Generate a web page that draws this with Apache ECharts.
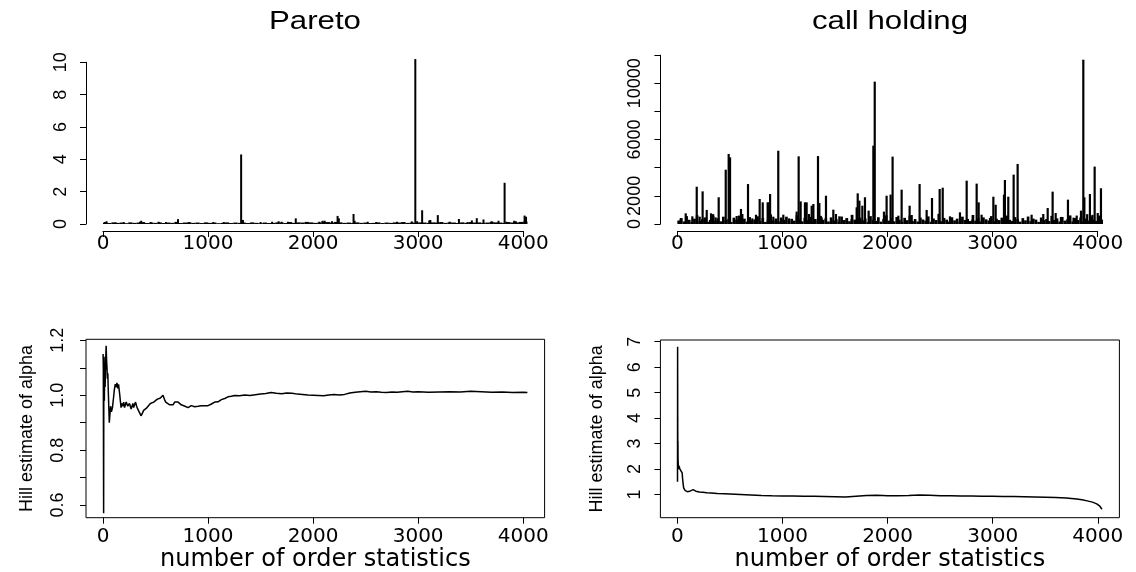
<!DOCTYPE html>
<html><head><meta charset="utf-8">
<script src="https://cdn.jsdelivr.net/npm/echarts@6/dist/echarts.min.js"></script>
<style>html,body{margin:0;padding:0;background:#fff}#c{width:1136px;height:572px}</style>
</head><body><div id="c"></div>
<script>
// ---------- data ----------
const panelTitles = ['Pareto', 'call holding'];
const xTickValues = [0, 1000, 2000, 3000, 4000];
const hillParetoTicks = [0.6, 0.7, 0.8, 0.9, 1.0, 1.1, 1.2];
const hillParetoLabels = [0.6, 0.8, 1.0, 1.2];
const hillCallTicks = [1, 2, 3, 4, 5, 6, 7];
const callYLabels = [0, 2000, 6000, 10000];

// Pareto series: visible spikes
const paretoSpikeIdx = [19, 34, 120, 198, 352, 364, 455, 530, 600, 714, 820, 1050, 1150, 1315, 1332, 1500, 1610, 1672, 1700, 1760, 1835, 2060, 2090, 2110, 2180, 2233, 2245, 2385, 2395, 2520, 2600, 2800, 2850, 2940, 2973, 2990, 3038, 3106, 3116, 3187, 3300, 3388, 3470, 3511, 3558, 3622, 3700, 3765, 3823, 3840, 3914, 3930, 4013, 4027];
const paretoSpikeVal = [0.12, 0.17, 0.1, 0.12, 0.14, 0.2, 0.12, 0.14, 0.12, 0.3, 0.12, 0.12, 0.12, 4.3, 0.25, 0.12, 0.14, 0.17, 0.14, 0.14, 0.35, 0.14, 0.2, 0.2, 0.17, 0.5, 0.35, 0.62, 0.2, 0.14, 0.12, 0.14, 0.12, 0.16, 10.2, 0.17, 0.85, 0.22, 0.25, 0.55, 0.14, 0.31, 0.12, 0.22, 0.36, 0.28, 0.17, 0.2, 2.55, 0.14, 0.2, 0.17, 0.52, 0.45];
// Pareto series: low background level, one reading every 40 observations
const paretoBaseStep = 40;
const paretoBaseVal = [0.09,0.06,0.1,0.07,0.09,0.05,0.1,0.07,0.09,0.12,0.06,0.09,0.07,0.1,0.06,0.09,0.07,0.13,0.06,0.09,0.1,0.07,0.09,0.06,0.1,0.07,0.09,0.05,0.07,0.1,0.06,0.09,0.07,0.09,0.06,0.1,0.07,0.05,0.09,0.06,0.07,0.1,0.09,0.06,0.12,0.07,0.1,0.09,0.13,0.1,0.07,0.09,0.14,0.12,0.09,0.13,0.1,0.07,0.09,0.06,0.1,0.07,0.09,0.06,0.07,0.1,0.06,0.09,0.07,0.1,0.09,0.12,0.07,0.09,0.06,0.1,0.09,0.07,0.1,0.09,0.12,0.07,0.1,0.09,0.06,0.1,0.07,0.12,0.09,0.1,0.07,0.09,0.13,0.1,0.09,0.07,0.12,0.09,0.1,0.13,0.15];

// call holding series: visible spikes
const callSpikeIdx = [31,79,142,184,212,240,279,320,342,364,393,460,488,501,564,605,618,672,713,748,783,812,859,869,882,913,960,1008,1062,1135,1154,1173,1214,1230,1252,1278,1294,1338,1351,1373,1414,1484,1509,1541,1611,1658,1706,1716,1732,1760,1785,1820,1865,1878,1966,1991,2029,2048,2103,2134,2210,2230,2305,2372,2423,2496,2525,2594,2689,2753,2807,2848,2867,2895,2975,3007,3029,3108,3117,3149,3200,3238,3371,3482,3524,3571,3600,3650,3717,3770,3800,3841,3863,3873,3900,3926,3950,3971,4000,4015,4031];
const callSpikeVal = [400,760,545,2650,520,2320,1000,760,590,470,1900,3860,4980,4740,570,1070,710,2840,400,660,1780,1540,1540,1540,2130,520,5210,660,400,880,4810,1610,1540,1540,710,1300,1420,4830,1490,470,2010,1020,710,545,400,355,1185,2180,1660,1300,1900,950,5570,10120,880,2010,2090,4790,590,2440,1300,640,2840,1000,1850,2490,2580,545,830,3080,310,2870,1540,660,430,1940,1370,2090,3130,1940,3510,4270,660,710,1140,2300,780,500,1730,450,600,950,11680,1900,700,2130,650,4080,780,600,2540];
// call holding series: dense background level, one reading every 25 observations
const callBaseStep = 25;
const callBaseVal = [250,420,180,560,300,150,380,620,210,340,470,160,290,700,230,410,190,520,280,360,
140,450,310,600,220,380,170,490,260,330,550,200,420,150,310,680,240,390,180,460,
290,520,160,370,240,610,330,190,440,270,500,150,360,230,580,300,410,180,470,250,
340,160,530,280,420,200,650,310,180,450,260,390,140,560,300,220,480,170,360,620,
240,410,190,500,300,150,440,270,590,210,350,180,460,320,240,540,160,390,280,720,
200,430,310,170,480,260,380,150,520,290,360,210,640,240,410,180,470,330,250,560,
190,370,280,450,160,600,300,220,490,340,170,420,260,530,200,380,310,150,460,270,
350,210,580,290,400,180,500,240,330,610,190,420,280,460,170,380,250,540,300,220,450,310];

// Hill estimates
const hillParetoK = [1,3,6,8,10,13,16,20,25,30,34,38,42,46,50,55,60,66,72,80,90,100,108,117,125,133,140,148,155,160,165,172,180,188,197,205,213,221,229,236,244,252,260,268,276,284,292,300,310,320,330,340,350,362,375,387,400,419,435,451,467,483,500,514,530,546,560,571,585,597,615,635,650,667,682,698,715,730,745,762,780,794,810,825,840,857,873,889,905,921,936,952,968,984,1000,1016,1032,1048,1064,1079,1095,1111,1127,1143,1159,1175,1190,1206,1222,1238,1254,1270,1300,1350,1400,1450,1500,1550,1600,1650,1700,1750,1800,1850,1900,1950,2000,2050,2100,2150,2200,2250,2300,2350,2400,2450,2500,2550,2600,2650,2700,2750,2800,2850,2900,2950,3000,3100,3200,3300,3400,3500,3600,3700,3800,3900,4000,4040];
const hillParetoVal = [1.15,1.10,0.57,1.12,1.14,0.98,1.08,1.03,1.12,1.18,1.13,1.10,1.06,1.08,1.02,0.96,0.90,0.93,0.96,0.94,0.955,0.99,1.02,1.04,1.03,1.045,1.025,1.04,1.035,1.00,0.98,0.955,0.97,0.96,0.975,0.955,0.965,0.975,0.98,0.96,0.955,0.97,0.965,0.95,0.96,0.97,0.955,0.965,0.975,0.96,0.95,0.945,0.935,0.925,0.935,0.945,0.94,0.955,0.96,0.97,0.965,0.975,0.98,0.985,0.985,0.99,0.995,1.0,0.985,0.975,0.97,0.965,0.97,0.965,0.975,0.98,0.975,0.97,0.965,0.965,0.96,0.958,0.955,0.96,0.962,0.955,0.958,0.962,0.96,0.958,0.962,0.96,0.962,0.96,0.962,0.965,0.968,0.972,0.975,0.978,0.976,0.98,0.984,0.982,0.988,0.99,0.994,0.998,0.996,1.0,0.999,1.0,0.998,1.001,0.999,1.002,1.004,1.006,1.01,1.007,1.005,1.008,1.007,1.004,1.003,1.001,1.0,0.999,0.998,1.001,1.003,1.001,1.003,1.008,1.011,1.013,1.014,1.012,1.013,1.011,1.01,1.012,1.011,1.013,1.014,1.012,1.013,1.011,1.012,1.013,1.012,1.014,1.013,1.011,1.012,1.01,1.011,1.01];
const hillCallK = [1,2,3,4,5,6,8,10,12,14,17,20,24,28,32,36,40,45,50,55,60,67,75,85,95,110,125,140,150,160,175,190,210,240,280,320,380,450,500,600,700,800,900,1000,1100,1200,1300,1400,1500,1600,1700,1800,1900,2000,2100,2200,2300,2400,2500,2600,2700,2800,2900,3000,3100,3200,3300,3400,3500,3600,3700,3750,3800,3850,3900,3950,3990,4020,4040];
const hillCallVal = [1.5,6.8,3.95,2.6,3.1,2.4,2.2,2.05,2.15,2.0,2.1,2.05,2.0,1.95,2.02,1.98,1.95,1.85,1.6,1.4,1.25,1.2,1.15,1.12,1.11,1.12,1.14,1.17,1.19,1.16,1.13,1.12,1.1,1.09,1.07,1.06,1.04,1.03,1.02,1.0,0.98,0.96,0.95,0.945,0.94,0.935,0.93,0.92,0.91,0.9,0.93,0.96,0.97,0.955,0.95,0.96,0.98,0.97,0.955,0.95,0.945,0.94,0.935,0.93,0.925,0.92,0.915,0.905,0.895,0.88,0.86,0.845,0.82,0.79,0.75,0.7,0.63,0.54,0.42];

// ---------- build ----------
function pairs(a, b) { return a.map((v, i) => [v, b[i]]); }
function stepPairs(step, vals) { return vals.map((v, i) => [step / 2 + step * i, v]); }

function spikeRenderer(width) {
  return function (params, api) {
    const x = api.value(0), y = api.value(1);
    const a = api.coord([x, 0]), b = api.coord([x, y]);
    return { type: 'line', shape: { x1: a[0], y1: a[1], x2: b[0], y2: b[1] },
      style: { stroke: '#000', lineWidth: width } };
  };
}

const K = '#000';
const tickFont = { color: K, fontFamily: 'DejaVu Sans', fontSize: 20, lineHeight: 20 };
const yTickFont = { color: K, fontFamily: 'Liberation Sans', fontSize: 18, lineHeight: 18 };
const nameX = { color: K, fontFamily: 'DejaVu Sans', fontSize: 24 };
const nameY = { color: K, fontFamily: 'Liberation Sans', fontSize: 18 };
const plain = v => String(v);

function topX(i) {
  return { gridIndex: i, type: 'value', min: 0, max: 4000, interval: 1000, offset: 7,
    axisLine: { show: true, onZero: false, lineStyle: { color: K, width: 1 } },
    axisTick: { show: true, length: 6, lineStyle: { color: K } },
    axisLabel: Object.assign({ margin: 3, formatter: plain }, tickFont), splitLine: { show: false } };
}
function botX(i, min, max) {
  return { gridIndex: i, type: 'value', min: min, max: max,
    name: 'number of order statistics', nameLocation: 'middle', nameGap: 29, nameTextStyle: nameX,
    axisLine: { show: false, onZero: false },
    axisTick: { show: true, length: 6, customValues: xTickValues, lineStyle: { color: K } },
    axisLabel: Object.assign({ margin: 9, customValues: xTickValues, formatter: plain }, tickFont), splitLine: { show: false } };
}
function titleText(txt, cx) {
  return { type: 'text', x: cx, y: 22, scaleX: 1.2, originX: 0, originY: 0,
    style: { text: txt, x: 0, y: 0, textAlign: 'center', textVerticalAlign: 'middle', fontFamily: 'Liberation Sans', fontSize: 26, fill: K } };
}

const option = {
  animation: false,
  backgroundColor: '#fff',
  graphic: [ titleText(panelTitles[0], 315), titleText(panelTitles[1], 890) ],
  grid: [
    { left: 103, top: 62.3, width: 420.2, height: 161.7, outerBoundsMode: 'none' },
    { left: 677.4, top: 55.2, width: 420.3, height: 168.8, outerBoundsMode: 'none' },
    { left: 86, top: 339.3, width: 458.6, height: 178.4, show: true, borderColor: K, borderWidth: 1, outerBoundsMode: 'none' },
    { left: 660.4, top: 340, width: 459, height: 177.7, show: true, borderColor: K, borderWidth: 1, outerBoundsMode: 'none' }
  ],
  xAxis: [ topX(0), topX(1), botX(2, -161.8, 4203.7), botX(3, -161.8, 4206) ],
  yAxis: [
    { gridIndex: 0, type: 'value', min: 0, max: 10, interval: 2, offset: 17,
      axisLine: { show: true, onZero: false, lineStyle: { color: K } },
      axisTick: { show: true, length: 6, lineStyle: { color: K } },
      axisLabel: Object.assign({ rotate: 90, margin: 16, formatter: plain }, yTickFont), splitLine: { show: false } },
    { gridIndex: 1, type: 'value', min: 0, max: 12000, interval: 2000, offset: 17,
      axisLine: { show: true, onZero: false, lineStyle: { color: K } },
      axisTick: { show: true, length: 6, lineStyle: { color: K } },
      axisLabel: Object.assign({ rotate: 90, margin: 16,
        formatter: v => callYLabels.indexOf(v) >= 0 ? String(v) : '' }, yTickFont), splitLine: { show: false } },
    { gridIndex: 2, type: 'value', min: 0.554, max: 1.2036,
      name: 'Hill estimate of alpha', nameLocation: 'middle', nameGap: 50, nameTextStyle: nameY,
      axisLine: { show: false, onZero: false },
      axisTick: { show: true, length: 6, customValues: hillParetoTicks, lineStyle: { color: K } },
      axisLabel: Object.assign({ rotate: 90, margin: 19, customValues: hillParetoLabels,
        formatter: v => v.toFixed(1) }, yTickFont), splitLine: { show: false } },
    { gridIndex: 3, type: 'value', min: 0.089, max: 7.067,
      name: 'Hill estimate of alpha', nameLocation: 'middle', nameGap: 54, nameTextStyle: nameY,
      axisLine: { show: false, onZero: false },
      axisTick: { show: true, length: 6, customValues: hillCallTicks, lineStyle: { color: K } },
      axisLabel: Object.assign({ rotate: 90, margin: 16, customValues: hillCallTicks, formatter: plain }, yTickFont), splitLine: { show: false } }
  ],
  series: [
    { type: 'custom', xAxisIndex: 0, yAxisIndex: 0, renderItem: spikeRenderer(4.3), data: stepPairs(paretoBaseStep, paretoBaseVal), encode: { x: 0, y: 1 }, clip: false, silent: true },
    { type: 'custom', xAxisIndex: 0, yAxisIndex: 0, renderItem: spikeRenderer(2), data: pairs(paretoSpikeIdx, paretoSpikeVal), encode: { x: 0, y: 1 }, clip: false, silent: true },
    { type: 'custom', xAxisIndex: 1, yAxisIndex: 1, renderItem: spikeRenderer(2.7), data: stepPairs(callBaseStep, callBaseVal), encode: { x: 0, y: 1 }, clip: false, silent: true },
    { type: 'custom', xAxisIndex: 1, yAxisIndex: 1, renderItem: spikeRenderer(2.2), data: pairs(callSpikeIdx, callSpikeVal), encode: { x: 0, y: 1 }, clip: false, silent: true },
    { type: 'line', xAxisIndex: 2, yAxisIndex: 2, data: pairs(hillParetoK, hillParetoVal), showSymbol: false, clip: false,
      lineStyle: { color: K, width: 1.5 }, silent: true },
    { type: 'line', xAxisIndex: 3, yAxisIndex: 3, data: pairs(hillCallK, hillCallVal), showSymbol: false, clip: false,
      lineStyle: { color: K, width: 1.5 }, silent: true }
  ]
};
const chart = echarts.init(document.getElementById('c'), null, { renderer: 'canvas' });
chart.setOption(option);
</script>
</body></html>
